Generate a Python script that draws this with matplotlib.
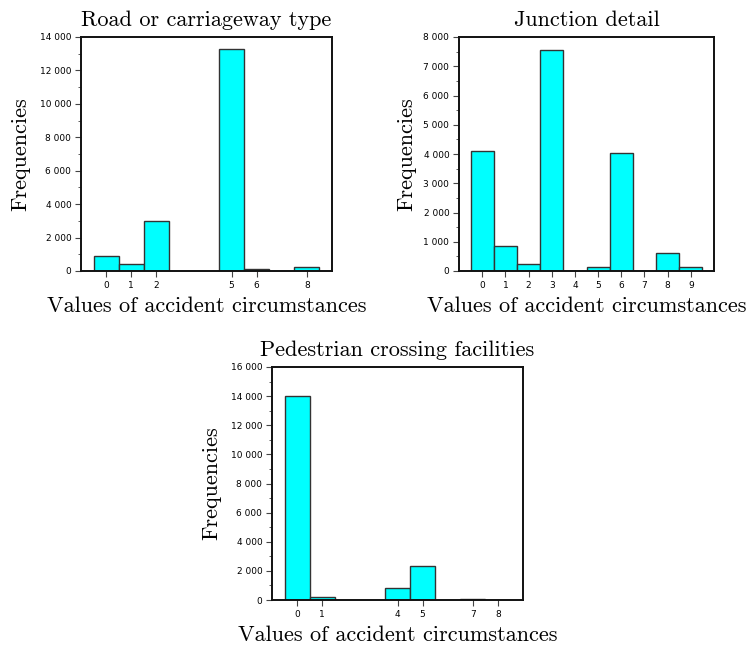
import matplotlib
matplotlib.use("Agg")
import matplotlib.pyplot as plt
from matplotlib.ticker import FuncFormatter, MultipleLocator

# values
road_titles = "Road or carriageway type"
road_cats = [0, 1, 2, 5, 6, 8]
road_vals = [920, 400, 3010, 13260, 140, 240]

junc_titles = "Junction detail"
junc_cats = [0, 1, 2, 3, 4, 5, 6, 7, 8, 9]
junc_vals = [4100, 860, 240, 7560, 15, 150, 4040, 0, 610, 140]

ped_titles = "Pedestrian crossing facilities"
ped_cats = [0, 1, 4, 5, 7, 8]
ped_vals = [14010, 185, 800, 2330, 40, 5]

W, H = 749, 653
fig = plt.figure(figsize=(W / 100, H / 100), dpi=100)

def px_axes(x0, x1, y0, y1):
    return fig.add_axes([x0 / W, 1 - y1 / H, (x1 - x0) / W, (y1 - y0) / H])

def thousands(v, pos):
    return "{:,}".format(int(v)).replace(",", " ")

def draw(ax, cats, vals, title, xlim, ymax, ystep, lab_pad):
    ax.bar(cats, vals, width=1.0, color="#00ffff", edgecolor="#333333", linewidth=1.0)
    ax.set_xlim(*xlim)
    ax.set_ylim(0, ymax)
    ax.set_xticks(cats)
    ax.yaxis.set_major_locator(MultipleLocator(ystep))
    ax.yaxis.set_minor_locator(MultipleLocator(ystep / 2))
    ax.yaxis.set_major_formatter(FuncFormatter(thousands))
    ax.tick_params(axis="both", which="major", direction="out", length=4, width=0.8,
                   labelsize=6.5, color="#444444", pad=3)
    ax.tick_params(axis="y", which="minor", direction="out", length=2, width=0.6, color="#444444")
    for s in ax.spines.values():
        s.set_linewidth(1.4)
        s.set_color("#111111")
    ax.set_title(title, fontfamily="cmr10", fontsize=16, pad=8)
    ax.set_xlabel("Values of accident circumstances", fontfamily="cmr10", fontsize=16, labelpad=5)
    ax.set_ylabel("Frequencies", fontfamily="cmr10", fontsize=16, labelpad=lab_pad)

ax1 = px_axes(81, 332, 37, 271)
draw(ax1, road_cats, road_vals, road_titles, (-1, 9), 14000, 2000, 7)

ax2 = px_axes(459, 714, 37, 271)
draw(ax2, junc_cats, junc_vals, junc_titles, (-1, 10), 8000, 1000, 5)

ax3 = px_axes(272, 523, 367, 600)
draw(ax3, ped_cats, ped_vals, ped_titles, (-1, 9), 16000, 2000, 7)

fig.savefig("out.png", dpi=100)
